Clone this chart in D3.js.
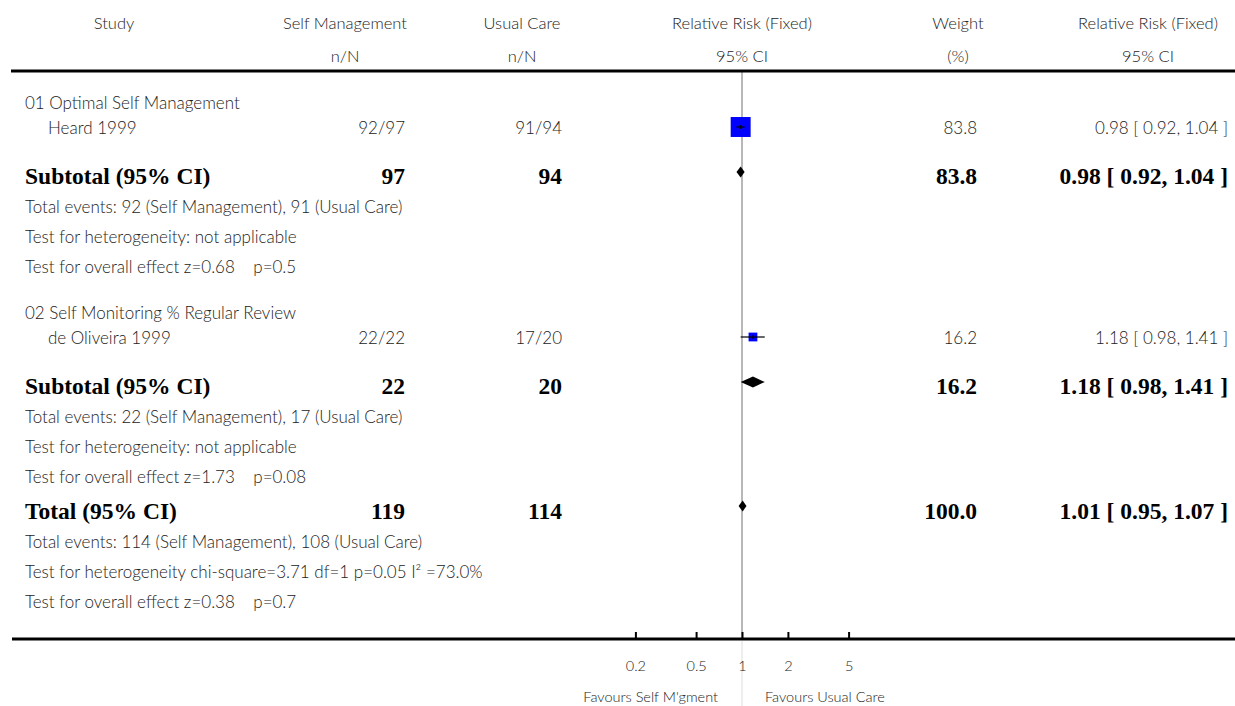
<!DOCTYPE html>
<html>
<head>
<meta charset="utf-8">
<script src="https://cdn.jsdelivr.net/npm/d3@7/dist/d3.min.js"></script>
<style>
body { margin: 0; background: #fff; }
text { white-space: pre; }
</style>
</head>
<body>
<div id="forest"></div>
<script>
// header labels (two lines per column)
var headTop = ["Study", "Self Management", "Usual Care", "Relative Risk (Fixed)", "Weight", "Relative Risk (Fixed)"];
var headBottom = ["", "n/N", "n/N", "95% CI", "(%)", "95% CI"];

// sub-groups and studies
var groupNames = ["01 Optimal Self Management", "02 Self Monitoring % Regular Review"];
var studyNames = ["Heard 1999", "de Oliveira 1999"];
var smEvents = [92, 22];
var smTotal = [97, 22];
var ucEvents = [91, 17];
var ucTotal = [94, 20];
var studyWeight = [83.8, 16.2];
var studyRR = [0.98, 1.18];
var studyLo = [0.92, 0.98];
var studyHi = [1.04, 1.41];

// subtotals
var subSM = [97, 22];
var subUC = [94, 20];
var subWeight = [83.8, 16.2];
var subRR = [0.98, 1.18];
var subLo = [0.92, 0.98];
var subHi = [1.04, 1.41];
var subNotes = [
  ["Total events: 92 (Self Management), 91 (Usual Care)",
   "Test for heterogeneity: not applicable",
   "Test for overall effect z=0.68    p=0.5"],
  ["Total events: 22 (Self Management), 17 (Usual Care)",
   "Test for heterogeneity: not applicable",
   "Test for overall effect z=1.73    p=0.08"]
];

// overall total
var totalSM = 119, totalUC = 114, totalWeight = 100.0;
var totalRR = 1.01, totalLo = 0.95, totalHi = 1.07;
var totalNotes = [
  "Total events: 114 (Self Management), 108 (Usual Care)",
  "Test for heterogeneity chi-square=3.71 df=1 p=0.05 I\u00B2 =73.0%",
  "Test for overall effect z=0.38    p=0.7"
];

// axis
var tickValues = [0.2, 0.5, 1, 2, 5];
var tickLabels = ["0.2", "0.5", "1", "2", "5"];
var favourLabels = ["Favours Self M'gment", "Favours Usual Care"];

var w = 1235, h = 706;
var sans = "Lato, 'Open Sans', sans-serif";
var serif = "'Liberation Serif', 'DejaVu Serif', serif";
var ink = "#222";
var f2 = d3.format(".2f");
var ciText = function(r, l, u) { return f2(r) + " [ " + f2(l) + ", " + f2(u) + " ]"; };

var svg = d3.select("#forest").append("svg")
  .attr("width", w)
  .attr("height", h);

// log scale for relative risk
var xScale = d3.scaleLog().domain([0.1, 10]).range([589.5, 894.5]);
// box size from weight
var boxScale = d3.scaleSqrt().domain([0, 100]).range([0, 21.8]);

// column anchors
var headX = [114, 345, 522, 742, 958, 1148];
var colSM = 405, colUC = 562, colW = 977, colCI = 1228;
var textLeft = 25, studyLeft = 48;

// build the rows, each with a gap before it
var gaps = { group: 46, study: 25, sub: 48, note: 30, noteFirst: 31, total: 34 };
var rows = [];
groupNames.forEach(function(g, i) {
  rows.push({ type: "group", label: g });
  rows.push({ type: "study", i: i });
  rows.push({ type: "sub", i: i });
  subNotes[i].forEach(function(n, j) { rows.push({ type: j == 0 ? "noteFirst" : "note", label: n }); });
});
rows.push({ type: "total" });
totalNotes.forEach(function(n, j) { rows.push({ type: j == 0 ? "noteFirst" : "note", label: n }); });

var y = 57;
rows.forEach(function(r) { y += gaps[r.type]; r.y = y; });

// header
[headTop, headBottom].forEach(function(line, li) {
  svg.selectAll("text.head" + li).data(line).enter().append("text")
    .attr("class", "head" + li)
    .attr("x", function(d, i) { return headX[i]; })
    .attr("y", li == 0 ? 23 : 56).attr("dy", "0.35em")
    .attr("text-anchor", "middle")
    .style("font-family", sans).style("font-weight", 300)
    .style("font-size", "16.5px").attr("fill", ink)
    .text(function(d) { return d; });
});

// reference line at RR = 1
svg.append("line")
  .attr("x1", xScale(1)).attr("x2", xScale(1))
  .attr("y1", 72).attr("y2", 638)
  .attr("stroke", "#888").attr("stroke-width", 1.2);
svg.append("line")
  .attr("x1", xScale(1)).attr("x2", xScale(1))
  .attr("y1", 641).attr("y2", h)
  .attr("stroke", "#ddd").attr("stroke-width", 1);

// rule lines
svg.append("line").attr("x1", 11).attr("x2", w).attr("y1", 71).attr("y2", 71)
  .attr("stroke", "#000").attr("stroke-width", 3);
svg.append("line").attr("x1", 12).attr("x2", w).attr("y1", 639).attr("y2", 639)
  .attr("stroke", "#000").attr("stroke-width", 3);

function plain(x, y, txt, anchor) {
  svg.append("text").attr("x", x).attr("y", y).attr("dy", "0.35em")
    .attr("text-anchor", anchor || "start")
    .style("font-family", sans).style("font-weight", 300)
    .style("font-size", "17px").attr("fill", ink)
    .text(txt);
}
function bold(x, y, txt, anchor) {
  svg.append("text").attr("x", x).attr("y", y).attr("dy", "0.35em")
    .attr("text-anchor", anchor || "start")
    .style("font-family", serif)
    .style("font-weight", "bold")
    .style("font-size", "23.5px").attr("fill", "#000")
    .text(txt);
}
function diamond(cy, r, l, u) {
  var pts = [[xScale(l), cy], [xScale(r), cy - 5.5], [xScale(u), cy], [xScale(r), cy + 5.5]];
  svg.append("path").attr("d", d3.line()(pts) + "Z").attr("fill", "#000");
}

rows.forEach(function(r) {
  if (r.type == "group") plain(textLeft, r.y, r.label);
  else if (r.type == "note" || r.type == "noteFirst") plain(textLeft, r.y, r.label);
  else if (r.type == "study") {
    var i = r.i;
    plain(studyLeft, r.y, studyNames[i]);
    plain(colSM, r.y, smEvents[i] + "/" + smTotal[i], "end");
    plain(colUC, r.y, ucEvents[i] + "/" + ucTotal[i], "end");
    plain(colW, r.y, studyWeight[i].toFixed(1), "end");
    plain(colCI, r.y, ciText(studyRR[i], studyLo[i], studyHi[i]), "end");
    var s = boxScale(studyWeight[i]);
    var cy = r.y - 1;
    svg.append("rect")
      .attr("x", xScale(studyRR[i]) - s / 2).attr("y", cy - s / 2)
      .attr("width", s).attr("height", s)
      .attr("fill", "#0000ff");
    svg.append("line")
      .attr("x1", xScale(studyLo[i])).attr("x2", xScale(studyHi[i]))
      .attr("y1", cy).attr("y2", cy)
      .attr("stroke", "#000").attr("stroke-width", 1.2);
    svg.append("line")
      .attr("x1", xScale(studyRR[i])).attr("x2", xScale(studyRR[i]))
      .attr("y1", cy - 2).attr("y2", cy + 2)
      .attr("stroke", "#000").attr("stroke-width", 1);
  }
  else if (r.type == "sub") {
    var k = r.i;
    bold(textLeft, r.y, "Subtotal (95% CI)");
    bold(colSM, r.y, String(subSM[k]), "end");
    bold(colUC, r.y, String(subUC[k]), "end");
    bold(colW, r.y, subWeight[k].toFixed(1), "end");
    bold(colCI, r.y, ciText(subRR[k], subLo[k], subHi[k]), "end");
    diamond(r.y - 4, subRR[k], subLo[k], subHi[k]);
  }
  else if (r.type == "total") {
    bold(textLeft, r.y, "Total (95% CI)");
    bold(colSM, r.y, String(totalSM), "end");
    bold(colUC, r.y, String(totalUC), "end");
    bold(colW, r.y, totalWeight.toFixed(1), "end");
    bold(colCI, r.y, ciText(totalRR, totalLo, totalHi), "end");
    diamond(r.y - 5, totalRR, totalLo, totalHi);
  }
});

// x axis: ticks point up, labels below
var xAxis = d3.axisBottom(xScale)
  .tickValues(tickValues)
  .tickSizeInner(-7)
  .tickSizeOuter(0)
  .tickPadding(22)
  .tickFormat(function(d, i) { return tickLabels[i]; });

var gx = svg.append("g")
  .attr("transform", "translate(0,639)")
  .call(xAxis);
gx.select(".domain").remove();
gx.selectAll(".tick line").attr("stroke", "#000").attr("stroke-width", 2);
gx.selectAll(".tick text")
  .style("font-family", sans).style("font-weight", 300)
  .style("font-size", "14.5px").attr("fill", ink);

// favours labels either side of the null line
svg.selectAll("text.favour").data(favourLabels).enter().append("text")
  .attr("class", "favour")
  .attr("x", function(d, i) { return i == 0 ? xScale(1) - 24 : xScale(1) + 23; })
  .attr("y", 697).attr("dy", "0.35em")
  .attr("text-anchor", function(d, i) { return i == 0 ? "end" : "start"; })
  .style("font-family", sans).style("font-weight", 300)
  .style("font-size", "14.5px").attr("fill", ink)
  .text(function(d) { return d; });
</script>
</body>
</html>
